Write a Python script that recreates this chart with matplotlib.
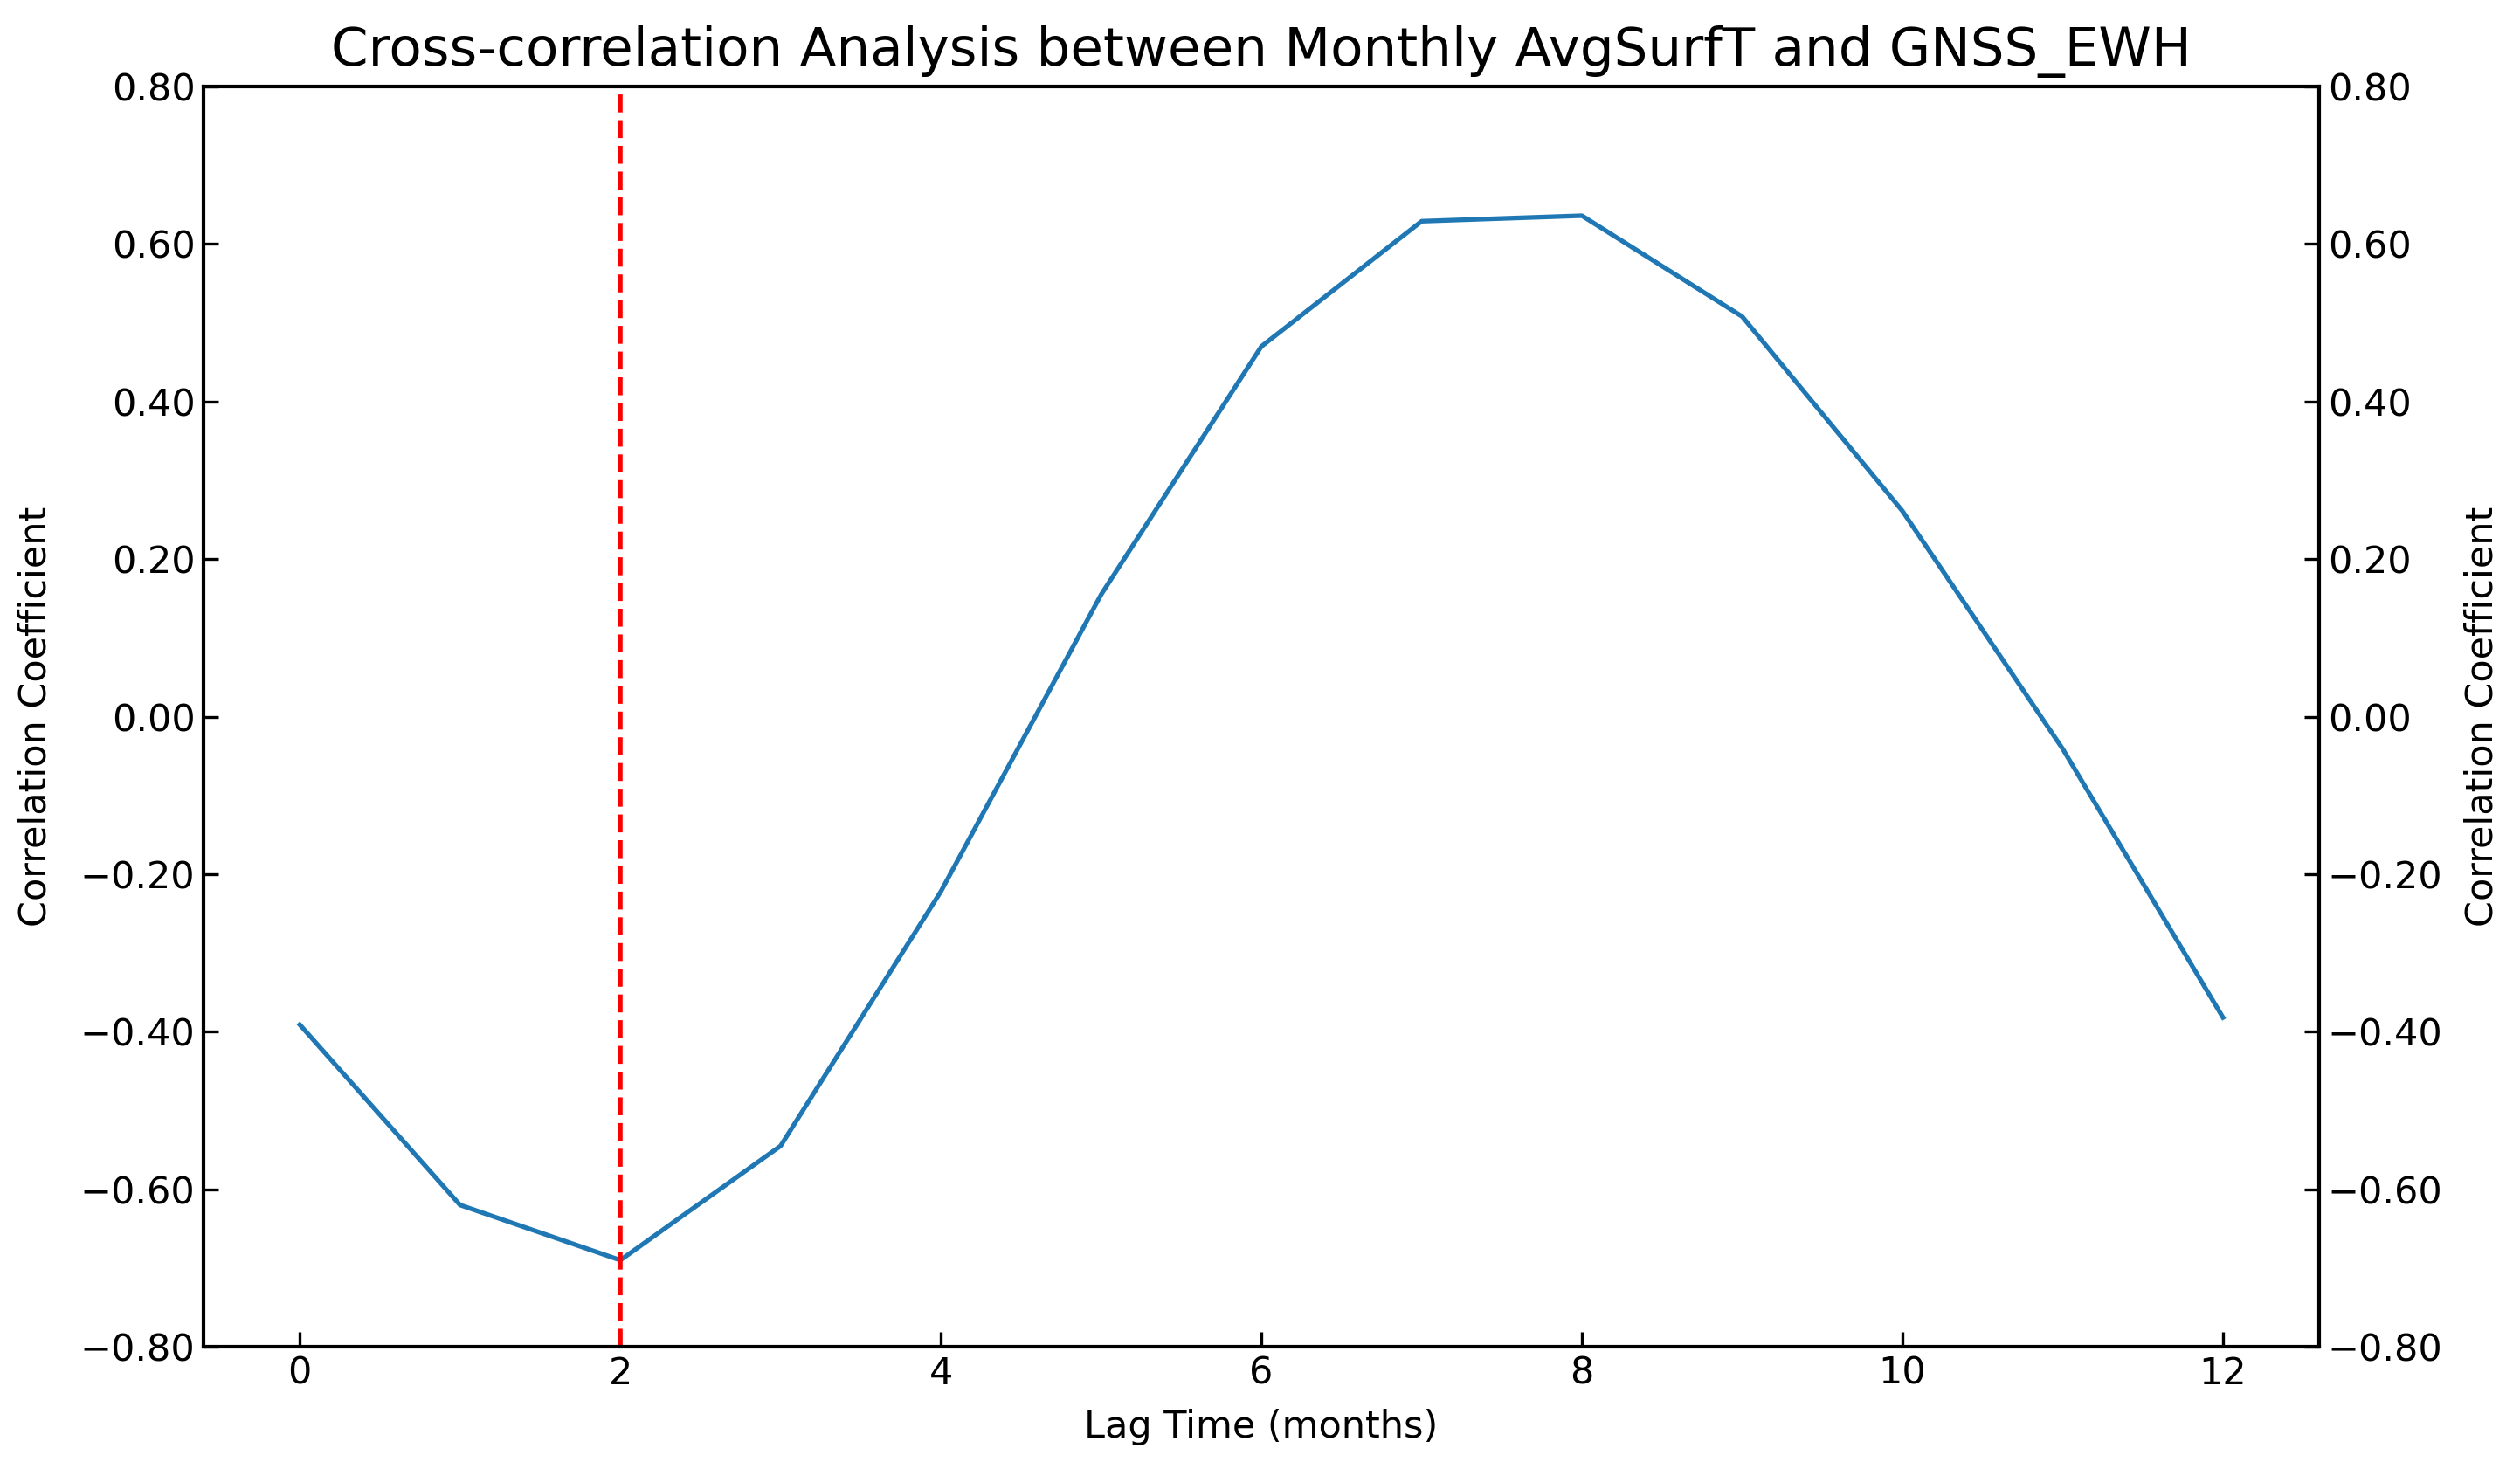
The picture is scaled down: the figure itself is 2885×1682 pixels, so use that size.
import numpy as np
import matplotlib
matplotlib.use('Agg')
from matplotlib import pyplot as plt
from matplotlib.ticker import FuncFormatter

# lag (months) and cross-correlation values
lags = [0, 1, 2, 3, 4, 5, 6, 7, 8, 9, 10, 11, 12]
corr = [-0.391, -0.620, -0.690, -0.545, -0.222, 0.155, 0.470,
        0.629, 0.636, 0.508, 0.261, -0.041, -0.382]
best_lag = 2
y_ticks = [-0.8, -0.6, -0.4, -0.2, 0.0, 0.2, 0.4, 0.6, 0.8]
x_ticks = [0, 2, 4, 6, 8, 10, 12]

# two decimals, real minus sign
fmt = FuncFormatter(lambda v, pos: ('%.2f' % v).replace('-', '\u2212'))

fig = plt.figure(figsize=(14.425, 8.41), dpi=200)
ax = fig.add_axes([0.0808, 0.0832, 0.9203 - 0.0808, 0.9411 - 0.0832])

ax.plot(lags, corr, color='#1f77b4', lw=1.9)
ax.axvline(best_lag, color='red', ls='--', lw=2)

ax.set_ylim(-0.8, 0.8)
ax.set_yticks(y_ticks)
ax.set_xticks(x_ticks)
ax.yaxis.set_major_formatter(fmt)
ax.tick_params(direction='in', labelsize=15.5, length=6, width=1.2)
ax.set_xlabel('Lag Time (months)', fontsize=15.5, labelpad=7)
ax.set_ylabel('Correlation Coefficient', fontsize=15.5, labelpad=11)
ax.set_title('Cross-correlation Analysis between Monthly AvgSurfT and GNSS_EWH',
             fontsize=22, pad=8.5)
for s in ax.spines.values():
    s.set_linewidth(1.5)

# right side axis mirrors the left one
ax2 = ax.twinx()
ax2.set_ylim(ax.get_ylim())
ax2.set_yticks(y_ticks)
ax2.yaxis.set_major_formatter(fmt)
ax2.tick_params(direction='in', labelsize=15.5, length=6, width=1.2)
ax2.set_ylabel('Correlation Coefficient', fontsize=15.5, labelpad=8.5)

fig.savefig('out.png', dpi=200)
